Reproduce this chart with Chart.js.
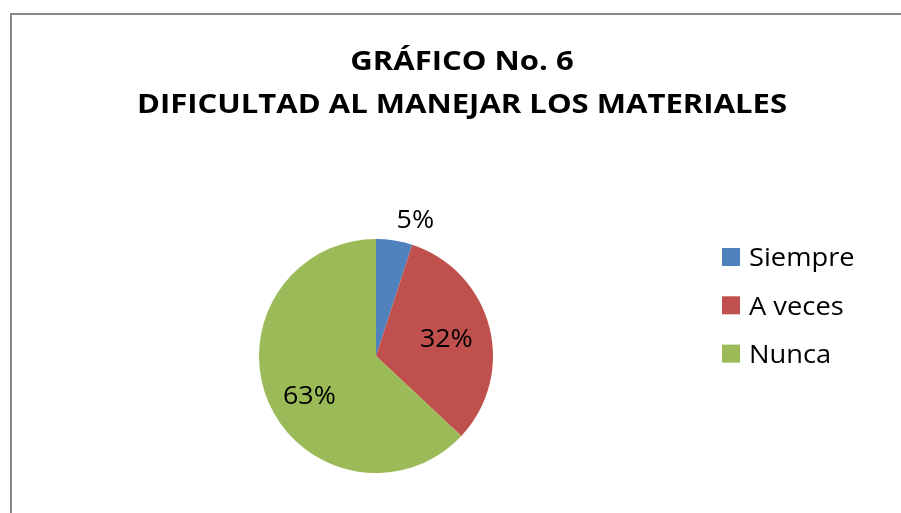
<!DOCTYPE html>
<html>
<head>
<meta charset="utf-8">
<script src="https://cdn.jsdelivr.net/npm/chart.js@4.4.0/dist/chart.umd.min.js"></script>
<style>
html,body{margin:0;padding:0;background:#fff;overflow:hidden}
#wrap{position:relative;width:901px;height:513px}
</style>
</head>
<body>
<div id="wrap"><canvas id="c" width="901" height="513"></canvas></div>
<script>
const titleLines = ['GRÁFICO No. 6', 'DIFICULTAD AL MANEJAR LOS MATERIALES'];
const categories = ['Siempre', 'A veces', 'Nunca'];
const values = [5, 32, 63];
const sliceColors = ['#4F81BD', '#C0504D', '#9BBB59'];

const FONT = '"Open Sans", "DejaVu Sans", sans-serif';

function stretchedText(ctx, txt, x, y, sx) {
  ctx.save();
  ctx.translate(x, y);
  ctx.scale(sx, 1);
  ctx.fillText(txt, 0, 0);
  ctx.restore();
}

const framePlugin = {
  id: 'frame',
  beforeDraw(chart) {
    const ctx = chart.ctx;
    ctx.save();
    ctx.fillStyle = '#ffffff';
    ctx.fillRect(0, 0, chart.width, chart.height);
    ctx.strokeStyle = '#888888';
    ctx.lineWidth = 2;
    ctx.strokeRect(11, 14, chart.width + 20, chart.height + 20);
    ctx.restore();
  }
};

const titlePlugin = {
  id: 'titleText',
  afterDraw(chart, args, opts) {
    const ctx = chart.ctx;
    ctx.save();
    ctx.font = 'bold ' + opts.size + 'px ' + FONT;
    ctx.fillStyle = '#000';
    ctx.textAlign = 'center';
    ctx.textBaseline = 'alphabetic';
    titleLines.forEach((t, i) => stretchedText(ctx, t, opts.x, opts.y + i * opts.lineHeight, opts.stretch));
    ctx.restore();
  }
};

const legendPlugin = {
  id: 'legendBoxes',
  afterDraw(chart, args, opts) {
    const ctx = chart.ctx;
    const ds = chart.data.datasets[0];
    ctx.save();
    ctx.font = opts.size + 'px ' + FONT;
    ctx.textAlign = 'left';
    ctx.textBaseline = 'alphabetic';
    chart.data.labels.forEach((lab, i) => {
      const cy = opts.y + i * opts.step;
      ctx.fillStyle = ds.backgroundColor[i];
      ctx.fillRect(opts.x, cy - opts.box / 2, opts.box, opts.box);
      ctx.fillStyle = '#000';
      stretchedText(ctx, lab, opts.x + opts.box + opts.gap, cy + opts.size * 0.357, opts.stretch);
    });
    ctx.restore();
  }
};

const pctPlugin = {
  id: 'pctLabels',
  afterDatasetsDraw(chart, args, opts) {
    const ctx = chart.ctx;
    const meta = chart.getDatasetMeta(0);
    const data = chart.data.datasets[0].data;
    const total = data.reduce((a, b) => a + b, 0);
    ctx.save();
    ctx.font = opts.size + 'px ' + FONT;
    ctx.fillStyle = '#000';
    ctx.textAlign = 'center';
    ctx.textBaseline = 'alphabetic';
    meta.data.forEach((arc, i) => {
      const p = arc.getProps(['x', 'y', 'startAngle', 'endAngle', 'outerRadius'], true);
      const mid = (p.startAngle + p.endAngle) / 2 + opts.angleShift[i] * Math.PI / 180;
      const r = p.outerRadius * opts.radius[i];
      const x = p.x + Math.cos(mid) * r;
      const y = p.y + Math.sin(mid) * r;
      const txt = Math.round(data[i] / total * 100) + '%';
      stretchedText(ctx, txt, x, y + opts.size * 0.357, opts.stretch);
    });
    ctx.restore();
  }
};

new Chart(document.getElementById('c'), {
  type: 'pie',
  data: {
    labels: categories,
    datasets: [{
      data: values,
      backgroundColor: sliceColors,
      borderWidth: 0
    }]
  },
  options: {
    responsive: false,
    animation: false,
    devicePixelRatio: 1,
    layout: { padding: { top: 239, bottom: 40, left: 40, right: 189 } },
    plugins: {
      legend: { display: false },
      title: { display: false },
      tooltip: { enabled: false },
      titleText: { size: 27, x: 462, y: 70, lineHeight: 43, stretch: 1.15 },
      legendBoxes: { x: 722, y: 257, step: 48.3, box: 18, gap: 9, size: 26, stretch: 1.05 },
      pctLabels: { size: 26, radius: [1.22, 0.62, 0.66], angleShift: [7, 0, -7], stretch: 1.03 }
    }
  },
  plugins: [framePlugin, titlePlugin, legendPlugin, pctPlugin]
});
</script>
</body>
</html>
